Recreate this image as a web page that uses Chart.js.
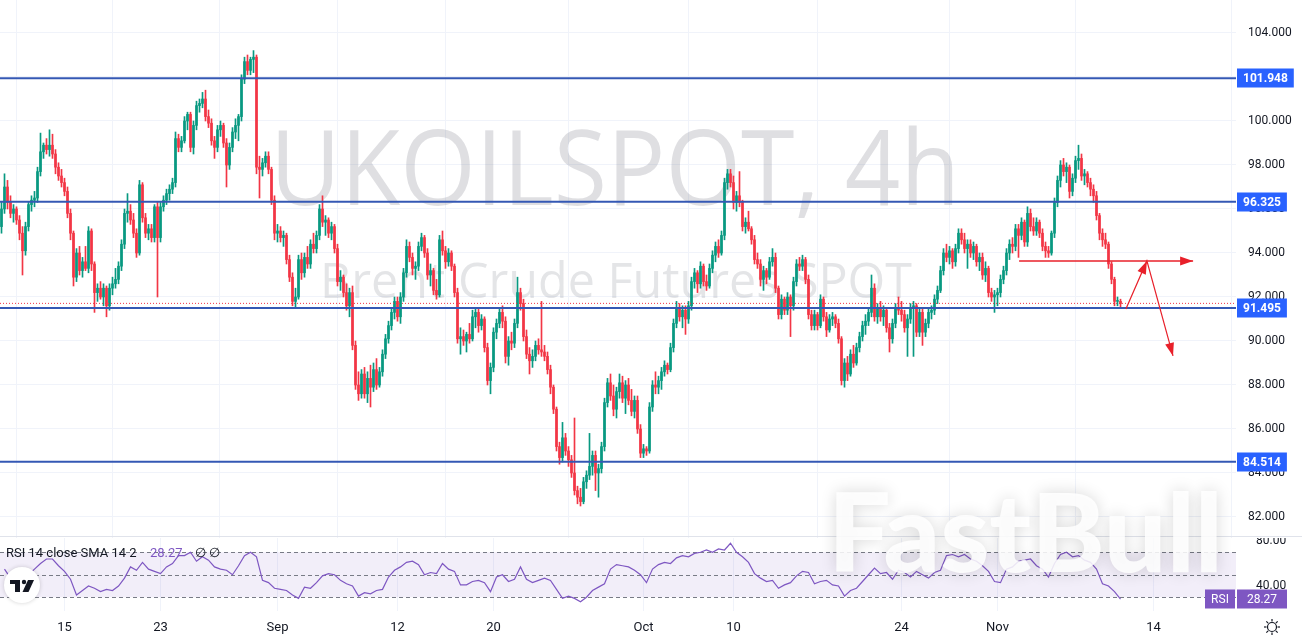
<!DOCTYPE html>
<html>
<head>
<meta charset="utf-8">
<title>UKOILSPOT 4h</title>
<script src="https://cdn.jsdelivr.net/npm/chart.js@4.4.0/dist/chart.umd.min.js"></script>
<style>
  html, body { margin: 0; padding: 0; background: #fff; overflow: hidden; }
  #wrap { position: relative; width: 1302px; height: 638px; }
  #price { position: absolute; left: 0; top: 0; }
  #rsi { position: absolute; left: 0; top: 538px; }
</style>
</head>
<body>
<div id="wrap">
  <canvas id="price" width="1302" height="538"></canvas>
  <canvas id="rsi" width="1302" height="100"></canvas>
</div>
<script>
// 4h candles, Aug 11 - Nov 11, one value per bar
const openPrices = [
  95.2,96.0,97.0,96.3,95.8,96.0,95.5,94.9,94.1,95.2,
  96.2,96.4,96.5,97.7,98.6,98.9,98.7,98.9,98.5,97.9,
  97.5,97.2,96.8,95.8,94.9,92.9,94.0,93.2,93.6,93.3,
  95.0,93.5,92.2,92.4,92.0,92.4,91.6,92.4,92.6,92.8,
  93.4,94.4,95.8,95.9,95.5,94.9,94.0,97.1,95.6,94.9,
  95.1,94.7,96.1,94.7,96.1,96.4,96.7,96.9,97.2,99.2,
  98.8,99.1,100.0,100.3,98.8,99.8,100.7,100.8,101.0,100.2,
  99.9,99.1,98.8,99.6,99.8,99.0,98.0,98.8,99.5,99.8,
  100.2,101.9,102.7,102.3,102.8,102.9,97.9,97.8,98.1,98.4,
  97.8,96.4,94.9,95.0,94.7,94.8,93.7,92.9,91.8,92.0,
  93.7,93.1,93.8,93.5,94.4,94.2,94.8,96.0,95.4,95.5,
  94.9,95.2,94.2,92.7,92.9,92.2,91.6,92.2,89.8,88.0,
  87.6,88.5,87.6,88.3,87.9,88.7,88.0,88.6,89.4,90.1,
  90.7,91.3,91.8,91.1,92.0,93.1,94.3,93.8,93.3,93.4,
  94.3,94.7,94.0,93.0,93.2,92.3,92.1,94.6,94.1,93.6,
  94.0,93.4,92.2,90.1,90.2,90.0,90.3,90.1,91.1,91.3,
  90.7,91.0,89.7,88.2,88.8,90.4,90.8,91.3,90.9,89.3,
  90.0,89.9,90.8,92.2,91.7,90.2,89.4,89.1,89.3,89.8,
  89.6,89.5,89.3,88.7,87.9,86.9,85.2,84.7,85.6,85.0,
  84.6,84.0,83.2,82.9,82.7,83.6,83.9,84.3,84.8,84.0,
  84.2,85.2,87.2,88.1,87.5,86.9,87.7,88.1,87.4,88.0,
  87.3,86.8,87.3,86.0,84.9,85.1,85.0,87.0,88.0,87.9,
  88.2,88.6,88.9,88.7,89.7,90.8,91.5,91.1,91.4,91.0,
  91.6,92.7,93.1,92.6,93.4,92.7,92.5,93.3,93.9,94.3,
  94.0,94.8,97.2,97.6,97.2,96.3,96.6,96.3,95.2,95.4,
  95.1,94.6,93.7,93.5,92.8,93.2,92.9,93.6,93.8,92.4,
  91.2,91.9,91.4,92.0,91.6,92.7,93.5,93.4,93.7,92.8,
  91.2,90.7,91.2,90.7,91.9,91.1,90.5,91.0,91.1,90.8,
  90.1,88.2,89.0,88.5,89.4,89.0,89.7,90.2,90.7,90.9,
  91.3,92.4,91.1,91.5,91.1,91.4,90.6,90.1,90.8,91.5,
  91.4,91.2,90.6,91.0,91.5,91.6,90.4,91.3,90.4,90.8,
  91.3,91.4,91.9,92.3,93.2,94.0,93.8,94.1,93.6,94.2,
  94.9,94.6,94.2,94.4,94.0,94.3,93.6,93.8,93.0,93.3,
  92.2,92.0,92.1,92.2,92.8,93.2,94.0,94.4,94.3,95.1,
  94.8,95.4,94.5,95.8,95.2,95.0,95.4,94.9,94.3,94.1,
  94.0,94.9,96.3,97.3,98.0,97.7,97.9,96.8,97.4,98.2,
  98.3,97.5,97.6,97.2,96.9,96.6,95.7,94.9,94.6,94.4,
  93.5,92.8,91.8,91.8
];
const highPrices = [
  96.3,97.6,97.3,96.6,96.2,96.1,95.7,95.2,95.4,96.3,
  96.6,96.8,97.9,99.45,99.0,99.2,99.6,99.4,98.7,98.1,
  97.8,97.4,97.0,96.0,95.0,94.2,94.3,93.8,94.3,95.2,
  95.1,93.6,92.6,92.7,92.6,92.5,92.6,92.9,93.3,93.6,
  94.6,96.0,96.7,96.2,95.8,95.1,97.3,97.2,95.8,95.3,
  95.3,96.2,96.3,96.3,96.6,96.9,97.1,97.4,99.5,99.4,
  99.3,100.2,100.4,100.4,100.0,100.9,101.0,101.3,101.4,100.5,
  100.1,99.3,99.8,100.0,99.9,99.2,99.0,99.7,100.1,100.3,
  102.1,102.9,103.0,102.9,103.2,103.0,98.4,98.3,98.6,98.6,
  97.9,96.6,95.3,95.2,95.0,94.9,93.9,93.1,92.4,93.9,
  94.0,94.0,94.3,94.6,94.9,95.0,96.2,96.6,95.7,95.6,
  95.4,95.3,94.4,93.2,93.0,92.6,92.4,92.5,90.0,88.6,
  88.7,88.8,88.6,88.9,89.0,89.2,88.8,89.6,90.3,90.9,
  91.5,92.0,92.0,92.2,93.3,94.6,94.5,94.0,93.6,94.5,
  94.9,94.8,94.2,93.5,93.3,92.8,94.8,95.0,94.3,94.2,
  94.1,93.5,92.4,90.6,90.5,90.4,90.8,91.4,91.5,91.5,
  91.2,91.1,89.9,89.0,90.6,91.0,91.5,91.6,91.1,90.2,
  90.4,91.0,92.9,92.4,91.9,90.5,89.7,89.6,90.0,90.1,
  91.8,89.8,89.5,88.9,88.0,87.0,85.4,86.3,85.8,85.2,
  84.8,86.5,83.4,83.3,83.8,84.1,85.8,85.0,85.0,84.4,
  85.4,87.4,88.3,88.5,88.0,87.9,88.5,88.4,88.2,88.3,
  87.8,87.5,87.5,86.2,85.3,85.2,87.2,88.2,88.6,88.4,
  88.8,89.1,89.0,89.9,91.0,91.8,91.7,91.6,91.6,91.8,
  92.9,93.3,93.2,93.6,93.5,93.0,93.5,94.1,94.5,94.6,
  95.0,97.4,97.8,97.8,97.5,96.8,97.7,96.4,95.6,95.9,
  95.2,94.8,94.0,93.7,93.4,93.3,93.8,94.2,94.0,92.5,
  92.1,92.0,92.2,92.1,92.9,93.7,93.8,93.9,93.8,93.0,
  91.4,91.4,91.3,92.1,92.0,91.3,91.2,91.3,91.2,91.0,
  90.2,89.2,89.3,89.6,89.8,89.9,90.4,90.9,91.2,91.5,
  93.0,92.6,91.7,91.8,91.6,91.5,90.8,91.0,91.7,92.0,
  91.8,91.4,91.2,91.7,91.8,91.7,91.5,91.5,91.0,91.5,
  91.6,92.1,92.5,93.4,94.2,94.4,94.3,94.2,94.4,95.1,
  95.1,94.9,94.6,94.6,94.5,94.4,94.0,94.0,93.6,93.4,
  92.4,92.3,92.4,93.0,93.4,94.2,94.6,94.7,95.3,95.3,
  95.6,95.5,96.1,96.0,95.6,95.6,95.5,95.1,94.5,94.3,
  95.0,96.5,97.5,98.2,98.3,98.1,98.0,97.6,98.4,98.9,
  98.5,97.8,97.7,97.4,97.1,96.8,95.8,95.1,94.9,94.5,
  93.6,92.9,92.0,91.9
];
const lowPrices = [
  94.9,95.8,96.0,95.6,95.4,95.3,94.6,93.0,93.9,95.0,
  95.9,96.1,96.3,97.5,98.3,98.5,98.4,98.3,97.6,97.3,
  97.0,96.6,95.6,94.6,92.5,92.7,93.0,92.9,93.2,93.1,
  93.2,91.3,91.8,91.9,91.6,91.1,91.4,92.1,92.4,92.6,
  93.2,94.2,95.4,95.3,94.7,93.8,93.9,95.4,94.7,94.6,
  94.5,94.5,92.0,94.5,95.9,96.2,96.4,96.7,97.0,98.6,
  98.6,99.0,99.6,98.6,98.5,99.6,100.4,100.6,100.0,99.7,
  98.9,98.3,98.6,99.3,98.8,97.0,97.8,98.6,99.2,99.1,
  100.0,101.7,102.1,102.1,102.2,97.6,96.5,97.5,97.9,97.6,
  96.2,94.6,94.5,94.5,94.3,93.5,92.7,91.6,91.5,91.9,
  92.8,92.9,93.3,93.3,94.0,94.0,94.6,95.2,94.8,94.7,
  94.6,94.0,92.5,92.3,92.0,91.4,91.1,89.6,87.8,87.3,
  87.4,87.4,87.2,87.0,87.7,87.8,87.9,88.4,89.2,89.9,
  90.5,91.0,90.9,90.8,91.8,92.9,93.6,93.0,92.8,93.2,
  94.1,93.8,92.8,92.5,92.1,91.9,92.0,93.9,93.3,93.4,
  93.2,92.0,89.9,89.4,89.8,89.5,89.9,90.0,90.6,90.4,
  90.5,89.5,88.0,87.6,88.6,90.1,90.6,90.6,89.0,88.9,
  89.6,89.7,90.6,91.4,90.0,89.2,88.5,88.8,89.1,89.4,
  89.3,89.1,88.5,87.6,86.7,85.0,84.4,84.5,84.8,84.3,
  83.8,83.0,82.6,82.5,82.6,83.3,83.7,83.9,83.2,82.9,
  84.0,85.0,87.0,87.3,86.6,86.5,87.4,87.2,86.7,87.1,
  86.6,86.5,85.8,84.7,84.7,84.8,84.9,86.8,87.6,87.6,
  87.8,88.4,88.5,88.6,89.5,90.6,90.9,90.6,90.3,90.8,
  91.4,92.4,92.2,92.4,92.5,92.3,92.4,93.1,93.6,93.8,
  93.9,94.6,96.9,97.0,96.0,95.9,96.1,95.0,94.9,95.0,
  94.4,93.5,93.3,92.5,92.3,92.6,92.8,93.4,92.2,91.0,
  91.0,91.2,91.2,90.2,91.4,92.5,93.2,93.2,92.6,91.0,
  90.5,90.5,90.5,90.6,90.9,90.2,90.4,90.7,90.6,89.9,
  88.0,87.9,88.2,88.4,88.8,88.9,89.5,90.0,90.3,90.7,
  91.1,90.9,90.8,90.9,90.7,90.4,89.5,89.9,90.6,91.2,
  90.9,90.4,89.3,90.8,89.3,90.2,90.2,89.8,90.2,90.6,
  91.0,91.2,91.7,92.2,93.0,93.6,93.5,93.3,93.4,94.0,
  94.4,94.0,93.3,93.8,93.7,93.4,93.2,92.8,92.7,92.0,
  91.8,91.3,91.6,92.0,92.6,93.0,93.7,94.0,94.1,93.8,
  94.6,94.3,94.3,95.0,94.8,94.8,94.7,94.1,93.8,93.8,
  93.9,94.7,96.1,97.0,97.5,97.2,96.5,96.6,97.2,97.8,
  97.3,97.1,97.0,96.6,96.3,95.5,94.6,94.3,94.2,93.3,
  92.6,91.6,91.6,91.5
];
const closePrices = [
  96.0,97.0,96.3,95.8,96.0,95.5,94.9,94.1,95.2,96.2,
  96.4,96.5,97.7,98.6,98.9,98.7,98.9,98.5,97.9,97.5,
  97.2,96.8,95.8,94.9,92.9,94.0,93.2,93.6,93.3,95.0,
  93.5,92.2,92.4,92.0,92.4,91.6,92.4,92.6,92.8,93.4,
  94.4,95.8,95.9,95.5,94.9,94.0,97.1,95.6,94.9,95.1,
  94.7,96.1,94.7,96.1,96.4,96.7,96.9,97.2,99.2,98.8,
  99.1,100.0,100.3,98.8,99.8,100.7,100.8,101.0,100.2,99.9,
  99.1,98.8,99.6,99.8,99.0,98.0,98.8,99.5,99.8,100.2,
  101.9,102.7,102.3,102.8,102.9,97.9,97.8,98.1,98.4,97.8,
  96.4,94.9,95.0,94.7,94.8,93.7,92.9,91.8,92.0,93.7,
  93.1,93.8,93.5,94.4,94.2,94.8,96.0,95.4,95.5,94.9,
  95.2,94.2,92.7,92.9,92.2,91.6,92.2,89.8,88.0,87.6,
  88.5,87.6,88.3,87.9,88.7,88.0,88.6,89.4,90.1,90.7,
  91.3,91.8,91.1,92.0,93.1,94.3,93.8,93.3,93.4,94.3,
  94.7,94.0,93.0,93.2,92.3,92.1,94.6,94.1,93.6,94.0,
  93.4,92.2,90.1,90.2,90.0,90.3,90.1,91.1,91.3,90.7,
  91.0,89.7,88.2,88.8,90.4,90.8,91.3,90.9,89.3,90.0,
  89.9,90.8,92.2,91.7,90.2,89.4,89.1,89.3,89.8,89.6,
  89.5,89.3,88.7,87.9,86.9,85.2,84.7,85.6,85.0,84.6,
  84.0,83.2,82.9,82.7,83.6,83.9,84.3,84.8,84.0,84.2,
  85.2,87.2,88.1,87.5,86.9,87.7,88.1,87.4,88.0,87.3,
  86.8,87.3,86.0,84.9,85.1,85.0,87.0,88.0,87.9,88.2,
  88.6,88.9,88.7,89.7,90.8,91.5,91.1,91.4,91.0,91.6,
  92.7,93.1,92.6,93.4,92.7,92.5,93.3,93.9,94.3,94.0,
  94.8,97.2,97.6,97.2,96.3,96.6,96.3,95.2,95.4,95.1,
  94.6,93.7,93.5,92.8,93.2,92.9,93.6,93.8,92.4,91.2,
  91.9,91.4,92.0,91.6,92.7,93.5,93.4,93.7,92.8,91.2,
  90.7,91.2,90.7,91.9,91.1,90.5,91.0,91.1,90.8,90.1,
  88.2,89.0,88.5,89.4,89.0,89.7,90.2,90.7,90.9,91.3,
  92.4,91.1,91.5,91.1,91.4,90.6,90.1,90.8,91.5,91.4,
  91.2,90.6,91.0,91.5,91.6,90.4,91.3,90.4,90.8,91.3,
  91.4,91.9,92.3,93.2,94.0,93.8,94.1,93.6,94.2,94.9,
  94.6,94.2,94.4,94.0,94.3,93.6,93.8,93.0,93.3,92.2,
  92.0,92.1,92.2,92.8,93.2,94.0,94.4,94.3,95.1,94.8,
  95.4,94.5,95.8,95.2,95.0,95.4,94.9,94.3,94.1,94.0,
  94.9,96.3,97.3,98.0,97.7,97.9,96.8,97.4,98.2,98.3,
  97.5,97.6,97.2,96.9,96.6,95.7,94.9,94.6,94.4,93.5,
  92.8,91.8,91.8,91.7
];

// RSI 14, read every second bar (bars 1, 3, 5 ...)
const rsiValues = [
  55,47,50,46,50,55,60,64,64,58,
  53,46,32,36,40,38,35,37,36,40,
  47,57,54,61,55,53,51,57,60,67,
  67,70,62,66,63,57,55,54,50,58,
  67,70,66,45,43,38,37,36,32,29,
  39,38,43,49,51,50,45,42,40,31,
  34,33,36,37,48,54,57,61,62,59,
  50,52,51,60,55,53,41,41,44,45,
  43,35,48,50,44,46,57,46,43,45,
  47,45,37,29,31,29,26,30,36,39,
  42,55,59,58,57,54,50,43,55,59,
  61,60,65,67,66,69,70,72,70,73,
  72,78,70,66,61,51,47,44,45,38,
  41,43,49,53,52,42,44,45,41,40,
  31,36,38,44,50,56,51,52,46,54,
  52,48,53,50,47,52,54,67,68,66,
  68,64,62,58,53,44,43,55,57,62,
  63,64,58,55,48,60,68,70,66,67,
  63,61,55,42,40,35,28.27
];
const rsiBands = [70, 50, 30];

const levelPrices = [101.948, 96.325, 91.495, 84.514];
const lastPrice = 91.71;

// red drawing: target line and zigzag
const targetLevel = 93.64;
const targetBars = [339.2, 397.2];
const zigzagBars = [374.8, 381.8, 390.5];
const zigzagPrices = [91.45, 93.64, 89.32];

const dateTickBars = [21, 53, 92, 132, 164, 214, 244, 300, 332, 384];
const dateTickLabels = ['15', '23', 'Sep', '12', '20', 'Oct', '10', '24', 'Nov', '14'];
const priceTicks = [82, 84, 86, 88, 90, 92, 94, 96, 98, 100, 102, 104];
const rsiTicks = [80, 40];

const FONT = 'Roboto, "Liberation Sans", Arial, sans-serif';
const UP = '#089981';
const DOWN = '#f23645';
const LEVEL = '#3458b4';
const LABEL_BG = '#2962ff';
const RSI_COLOR = '#7e57c2';
const GRID = '#f0f3fa';
const AXIS_W = 66;
const X_MIN = -0.5, X_MAX = 411.5;

function xAxis(showLabels) {
  return {
    type: 'linear', min: X_MIN, max: X_MAX, offset: false,
    afterBuildTicks: s => { s.ticks = dateTickBars.map(v => ({ value: v })); },
    afterFit: s => { s.height = showLabels ? 27 : 0; s.paddingLeft = 0; s.paddingRight = 0; },
    grid: { color: GRID, drawTicks: false },
    border: { display: false },
    ticks: {
      display: showLabels, autoSkip: false, maxRotation: 0, padding: 9,
      color: '#131722', font: { family: FONT, size: 13 },
      callback: (v, i) => dateTickLabels[i]
    }
  };
}

function yAxisFit(s) {
  s.width = AXIS_W;
  s.paddingTop = 0;
  s.paddingBottom = 0;
}

function drawFastBull(ctx, offY) {
  ctx.save();
  ctx.font = '900 108px Lato, "DejaVu Sans", sans-serif';
  const w = ctx.measureText('FastBull').width;
  ctx.translate(828, 572 - offY);
  ctx.scale(395 / w, 1);
  ctx.textAlign = 'left';
  ctx.textBaseline = 'alphabetic';
  ctx.shadowColor = 'rgba(0,0,0,0.18)';
  ctx.shadowBlur = 16;
  ctx.fillStyle = 'rgba(255,255,255,0.86)';
  ctx.fillText('FastBull', 0, 0);
  ctx.restore();
}

function arrowHead(ctx, x1, y1, x2, y2, len, half) {
  const a = Math.atan2(y2 - y1, x2 - x1);
  const bx = x2 - len * Math.cos(a), by = y2 - len * Math.sin(a);
  ctx.beginPath();
  ctx.moveTo(x2, y2);
  ctx.lineTo(bx + half * Math.sin(a), by - half * Math.cos(a));
  ctx.lineTo(bx - half * Math.sin(a), by + half * Math.cos(a));
  ctx.closePath();
  ctx.fill();
}

const priceDecor = {
  id: 'priceDecor',
  beforeDatasetsDraw(chart) {
    const ctx = chart.ctx;
    ctx.save();
    ctx.fillStyle = 'rgba(120,123,134,0.24)';
    ctx.textAlign = 'center';
    ctx.textBaseline = 'alphabetic';
    ctx.font = '400 105px "Open Sans", sans-serif';
    let t = 'UKOILSPOT, 4h';
    let w = ctx.measureText(t).width;
    ctx.save(); ctx.translate(615, 205); ctx.scale(690 / w, 1); ctx.fillText(t, 0, 0); ctx.restore();
    ctx.fillStyle = 'rgba(120,123,134,0.2)';
    ctx.font = '400 49px "Open Sans", sans-serif';
    t = 'Brent Crude Futures SPOT';
    w = ctx.measureText(t).width;
    ctx.save(); ctx.translate(616, 298); ctx.scale(592 / w, 1); ctx.fillText(t, 0, 0); ctx.restore();
    ctx.restore();
  },
  afterDatasetsDraw(chart) {
    const ctx = chart.ctx, xs = chart.scales.x, ys = chart.scales.y;
    ctx.save();
    ctx.fillStyle = '#e8202a';
    arrowHead(ctx, xs.getPixelForValue(targetBars[0]), ys.getPixelForValue(targetLevel),
      xs.getPixelForValue(targetBars[1]), ys.getPixelForValue(targetLevel), 13, 4.5);
    for (let k = 1; k < zigzagBars.length; k++) {
      arrowHead(ctx, xs.getPixelForValue(zigzagBars[k - 1]), ys.getPixelForValue(zigzagPrices[k - 1]),
        xs.getPixelForValue(zigzagBars[k]), ys.getPixelForValue(zigzagPrices[k]), 13, 4.5);
    }
    ctx.restore();
  },
  afterDraw(chart) {
    const ctx = chart.ctx, ys = chart.scales.y, area = chart.chartArea;
    ctx.save();
    ctx.font = 'bold 12px ' + FONT;
    ctx.textAlign = 'center';
    ctx.textBaseline = 'middle';
    levelPrices.forEach(p => {
      const y = Math.round(ys.getPixelForValue(p));
      const t = p.toFixed(3);
      const w = ctx.measureText(t).width + 12;
      ctx.fillStyle = LABEL_BG;
      ctx.fillRect(area.right + 1, y - 9.5, w, 19);
      ctx.fillStyle = '#fff';
      ctx.fillText(t, area.right + 1 + w / 2, y + 0.5);
    });
    ctx.fillStyle = '#e0e3eb';
    ctx.fillRect(0, chart.height - 2, chart.width, 1);
    ctx.restore();
    drawFastBull(ctx, 0);
  }
};

const rsiDecor = {
  id: 'rsiDecor',
  beforeDatasetsDraw(chart) {
    const ctx = chart.ctx, ys = chart.scales.y, a = chart.chartArea;
    ctx.save();
    const yTop = ys.getPixelForValue(rsiBands[0]), yBot = ys.getPixelForValue(rsiBands[2]);
    ctx.fillStyle = 'rgba(126,87,194,0.1)';
    ctx.fillRect(a.left, yTop, a.right - a.left, yBot - yTop);
    ctx.strokeStyle = '#787b86';
    ctx.lineWidth = 1;
    ctx.setLineDash([4, 3]);
    rsiBands.forEach(v => {
      const y = Math.round(ys.getPixelForValue(v)) + 0.5;
      ctx.beginPath(); ctx.moveTo(a.left, y); ctx.lineTo(a.right, y); ctx.stroke();
    });
    ctx.restore();
  },
  afterDraw(chart) {
    const ctx = chart.ctx, ys = chart.scales.y, a = chart.chartArea;
    ctx.save();
    // legend
    ctx.textBaseline = 'middle';
    ctx.textAlign = 'left';
    ctx.font = '13px ' + FONT;
    ctx.fillStyle = '#131722';
    ctx.fillText('RSI 14 close SMA 14 2', 6, 16);
    ctx.fillStyle = RSI_COLOR;
    ctx.fillText(rsiValues[rsiValues.length - 1].toFixed(2), 150, 16);
    ctx.fillStyle = '#131722';
    ctx.fillText('\u2205', 195, 16);
    ctx.fillText('\u2205', 209, 16);
    // logo
    ctx.save();
    ctx.shadowColor = 'rgba(0,0,0,0.18)';
    ctx.shadowBlur = 4;
    ctx.fillStyle = '#fff';
    ctx.beginPath(); ctx.arc(22, 47, 18, 0, Math.PI * 2); ctx.fill();
    ctx.restore();
    ctx.fillStyle = '#131722';
    ctx.fillRect(10, 42, 10, 4);
    ctx.fillRect(15, 42, 5, 12);
    ctx.beginPath(); ctx.arc(24, 44, 2.2, 0, Math.PI * 2); ctx.fill();
    ctx.beginPath(); ctx.moveTo(28, 42); ctx.lineTo(34, 42); ctx.lineTo(28.5, 54); ctx.lineTo(22.5, 54); ctx.closePath(); ctx.fill();
    // value labels
    const last = rsiValues[rsiValues.length - 1];
    const y = Math.round(ys.getPixelForValue(last));
    ctx.fillStyle = RSI_COLOR;
    ctx.fillRect(a.right - 31, y - 9.5, 30, 19);
    ctx.fillRect(a.right + 1, y - 9.5, 50, 19);
    ctx.fillStyle = '#fff';
    ctx.textAlign = 'center';
    ctx.font = '12px ' + FONT;
    ctx.fillText('RSI', a.right - 16, y + 0.5);
    ctx.fillText(last.toFixed(2), a.right + 26, y + 0.5);
    // settings icon
    ctx.strokeStyle = '#131722';
    ctx.lineWidth = 1.2;
    const gx = 1272, gy = 89;
    ctx.beginPath(); ctx.arc(gx, gy, 4.5, 0, Math.PI * 2); ctx.stroke();
    for (let k = 0; k < 8; k++) {
      const an = k * Math.PI / 4;
      ctx.beginPath();
      ctx.moveTo(gx + 5.5 * Math.cos(an), gy + 5.5 * Math.sin(an));
      ctx.lineTo(gx + 8 * Math.cos(an), gy + 8 * Math.sin(an));
      ctx.stroke();
    }
    ctx.restore();
    drawFastBull(ctx, 538);
  }
};

function buildCharts() {
  const candleColors = closePrices.map((c, i) => c >= openPrices[i] ? UP : DOWN);
  const wickData = closePrices.map((c, i) => ({ x: i, y: [lowPrices[i], highPrices[i]] }));
  const bodyData = closePrices.map((c, i) => ({ x: i, y: [openPrices[i], c] }));

  const levelSets = levelPrices.map(p => ({
    type: 'line', data: [{ x: X_MIN, y: p }, { x: X_MAX, y: p }],
    borderColor: LEVEL, borderWidth: 2, pointRadius: 0, order: 1
  }));

  new Chart(document.getElementById('price'), {
    type: 'bar',
    data: {
      datasets: [
        { type: 'line', data: targetBars.map(b => ({ x: b, y: targetLevel })),
          borderColor: '#e8202a', borderWidth: 1.5, pointRadius: 0, order: 0 },
        { type: 'line', data: zigzagBars.map((b, k) => ({ x: b, y: zigzagPrices[k] })),
          borderColor: '#e8202a', borderWidth: 1.2, pointRadius: 0, order: 0 },
        ...levelSets,
        { type: 'line', data: [{ x: X_MIN, y: lastPrice }, { x: X_MAX, y: lastPrice }],
          borderColor: DOWN, borderWidth: 1, borderDash: [1, 2], pointRadius: 0, order: 2 },
        { data: bodyData, backgroundColor: candleColors, barThickness: 2, minBarLength: 1, grouped: false, order: 3 },
        { data: wickData, backgroundColor: candleColors, barThickness: 1, grouped: false, order: 4 }
      ]
    },
    options: {
      responsive: false, animation: false, events: [],
      layout: { padding: 0, autoPadding: false },
      plugins: { legend: { display: false }, tooltip: { enabled: false } },
      scales: {
        x: xAxis(false),
        y: {
          position: 'right', min: 81.045, max: 105.5,
          afterBuildTicks: s => { s.ticks = priceTicks.map(v => ({ value: v })); },
          afterFit: yAxisFit,
          grid: { color: GRID, drawTicks: false },
          border: { display: false },
          ticks: { padding: 12, color: '#131722', font: { family: FONT, size: 12 }, callback: v => v.toFixed(3) }
        }
      }
    },
    plugins: [priceDecor]
  });

  new Chart(document.getElementById('rsi'), {
    type: 'line',
    data: {
      datasets: [{
        data: rsiValues.map((v, k) => ({ x: 2 * k + 1, y: v })),
        borderColor: RSI_COLOR, borderWidth: 1.2, pointRadius: 0, tension: 0
      }]
    },
    options: {
      responsive: false, animation: false, events: [],
      layout: { padding: 0, autoPadding: false },
      plugins: { legend: { display: false }, tooltip: { enabled: false } },
      scales: {
        x: xAxis(true),
        y: {
          position: 'right', min: 17.78, max: 82.67,
          afterBuildTicks: s => { s.ticks = rsiTicks.map(v => ({ value: v })); },
          afterFit: yAxisFit,
          grid: { display: false },
          border: { display: false },
          ticks: { padding: 12, color: '#131722', font: { family: FONT, size: 12 }, callback: v => v.toFixed(2) }
        }
      }
    },
    plugins: [rsiDecor]
  });
}

const fontLoads = ['105px "Open Sans"', '900 108px Lato', '12px Roboto', 'bold 12px Roboto']
  .map(f => document.fonts.load(f).catch(() => null));
Promise.all(fontLoads).then(buildCharts, buildCharts);
</script>
</body>
</html>
